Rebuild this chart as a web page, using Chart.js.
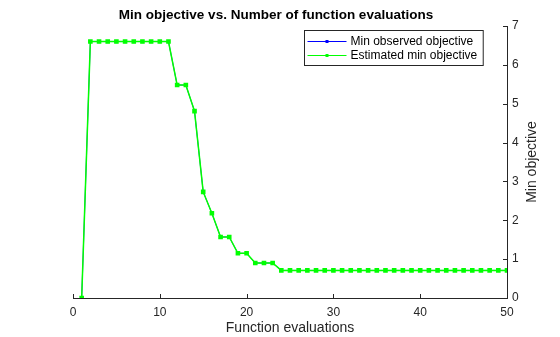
<!DOCTYPE html>
<html>
<head>
<meta charset="utf-8">
<script src="https://cdn.jsdelivr.net/npm/chart.js@4"></script>
<style>
  html, body { margin: 0; padding: 0; background: #fff; }
  #wrap { width: 560px; height: 337px; }
</style>
</head>
<body>
<div id="wrap"><canvas id="chart" width="560" height="337"></canvas></div>
<script>
// function evaluation index 1..50
const evals = [];
for (let i = 1; i <= 50; i++) evals.push(i);

const minObserved = [
  0, 6.6, 6.6, 6.6, 6.6, 6.6, 6.6, 6.6, 6.6, 6.6,
  6.6, 5.48, 5.48, 4.81, 2.73, 2.18, 1.57, 1.57, 1.15, 1.15,
  0.9, 0.9, 0.9, 0.71, 0.71, 0.71, 0.71, 0.71, 0.71, 0.71,
  0.71, 0.71, 0.71, 0.71, 0.71, 0.71, 0.71, 0.71, 0.71, 0.71,
  0.71, 0.71, 0.71, 0.71, 0.71, 0.71, 0.71, 0.71, 0.71, 0.71
];
const estimatedMin = [
  0, 6.6, 6.6, 6.6, 6.6, 6.6, 6.6, 6.6, 6.6, 6.6,
  6.6, 5.48, 5.48, 4.81, 2.73, 2.18, 1.57, 1.57, 1.15, 1.15,
  0.9, 0.9, 0.9, 0.71, 0.71, 0.71, 0.71, 0.71, 0.71, 0.71,
  0.71, 0.71, 0.71, 0.71, 0.71, 0.71, 0.71, 0.71, 0.71, 0.71,
  0.71, 0.71, 0.71, 0.71, 0.71, 0.71, 0.71, 0.71, 0.71, 0.71
];
const xTicks = [0, 10, 20, 30, 40, 50];
const yTicks = [0, 1, 2, 3, 4, 5, 6, 7];

const axisColor = "#262626";
const fontFamily = "'Liberation Sans', Arial, sans-serif";
const titleText = "Min objective vs. Number of function evaluations";

// MATLAB style: ticks pointing inward, custom legend box, y title reading upward
const matlabBits = {
  id: "matlabBits",
  afterDraw(c) {
    const ctx = c.ctx;
    const xs = c.scales.x, ys = c.scales.y;
    const area = c.chartArea;
    ctx.save();
    ctx.strokeStyle = axisColor;
    ctx.lineWidth = 1;
    xTicks.forEach(v => {
      const px = Math.round(xs.getPixelForValue(v)) + 0.5;
      ctx.beginPath();
      ctx.moveTo(px, area.bottom);
      ctx.lineTo(px, area.bottom - 4);
      ctx.stroke();
    });
    yTicks.forEach(v => {
      const py = Math.round(ys.getPixelForValue(v)) + 0.5;
      ctx.beginPath();
      ctx.moveTo(area.right, py);
      ctx.lineTo(area.right - 4, py);
      ctx.stroke();
    });

    // title
    ctx.fillStyle = "#000";
    ctx.font = "bold 13.5px " + fontFamily;
    ctx.textAlign = "center";
    ctx.textBaseline = "middle";
    ctx.fillText(titleText, 276, 15);

    // y axis title
    ctx.fillStyle = axisColor;
    ctx.font = "14px " + fontFamily;
    ctx.translate(532, (area.top + area.bottom) / 2);
    ctx.rotate(-Math.PI / 2);
    ctx.fillText("Min objective", 0, 0);
    ctx.restore();

    // legend
    ctx.save();
    ctx.font = "12px " + fontFamily;
    const labels = c.data.datasets.map(d => d.label);
    const textW = Math.max(...labels.map(l => ctx.measureText(l).width));
    const boxW = 46 + textW + 6;
    const boxH = 35;
    const bx = Math.round(area.right - 24 - boxW) + 0.5;
    const by = Math.round(area.top + 4) + 0.5;
    ctx.fillStyle = "#fff";
    ctx.fillRect(bx, by, boxW, boxH);
    ctx.strokeStyle = "#262626";
    ctx.strokeRect(bx, by, boxW, boxH);
    c.data.datasets.forEach((d, i) => {
      const ly = by + 11 + i * 14;
      ctx.strokeStyle = d.borderColor;
      ctx.beginPath();
      ctx.moveTo(bx + 3, ly);
      ctx.lineTo(bx + 42, ly);
      ctx.stroke();
      ctx.fillStyle = d.borderColor;
      ctx.fillRect(bx + 21, ly - 1.5, 3, 3);
      ctx.fillStyle = "#000";
      ctx.textAlign = "left";
      ctx.textBaseline = "middle";
      ctx.fillText(d.label, bx + 46, ly + 0.5);
    });
    ctx.restore();
  }
};

new Chart(document.getElementById("chart"), {
  type: "line",
  data: {
    datasets: [
      {
        label: "Min observed objective",
        data: evals.map((x, i) => ({ x: x, y: minObserved[i] })),
        borderColor: "#0000ff",
        backgroundColor: "#0000ff",
        borderWidth: 0.8,
        pointStyle: "rect",
        pointRadius: 1.5,
        tension: 0,
        order: 2
      },
      {
        label: "Estimated min objective",
        data: evals.map((x, i) => ({ x: x, y: estimatedMin[i] })),
        borderColor: "#00ff00",
        backgroundColor: "#00ff00",
        borderWidth: 1.5,
        pointStyle: "rect",
        pointRadius: 2.2,
        tension: 0,
        order: 1
      }
    ]
  },
  options: {
    responsive: false,
    animation: false,
    layout: { padding: { left: 73, right: 0, top: 26, bottom: 0 } },
    plugins: {
      legend: { display: false },
      tooltip: { enabled: false },
      title: { display: false }
    },
    scales: {
      x: {
        type: "linear",
        min: 0,
        max: 50,
        afterBuildTicks: s => { s.ticks = xTicks.map(v => ({ value: v })); },
        afterFit: s => { s.height = 39; },
        grid: { display: false, drawTicks: false },
        border: { display: true, color: axisColor },
        ticks: { color: axisColor, padding: 7, font: { family: fontFamily, size: 12 } },
        title: {
          display: true,
          text: "Function evaluations",
          color: axisColor,
          font: { family: fontFamily, size: 14 },
          padding: { top: 2, bottom: 0 }
        }
      },
      y: {
        position: "right",
        min: 0,
        max: 7,
        afterBuildTicks: s => { s.ticks = yTicks.map(v => ({ value: v })); },
        afterFit: s => { s.width = 53; },
        grid: { display: false, drawTicks: false },
        border: { display: true, color: axisColor },
        ticks: { color: axisColor, padding: 5, font: { family: fontFamily, size: 12 } }
      }
    }
  },
  plugins: [matlabBits]
});
</script>
</body>
</html>
